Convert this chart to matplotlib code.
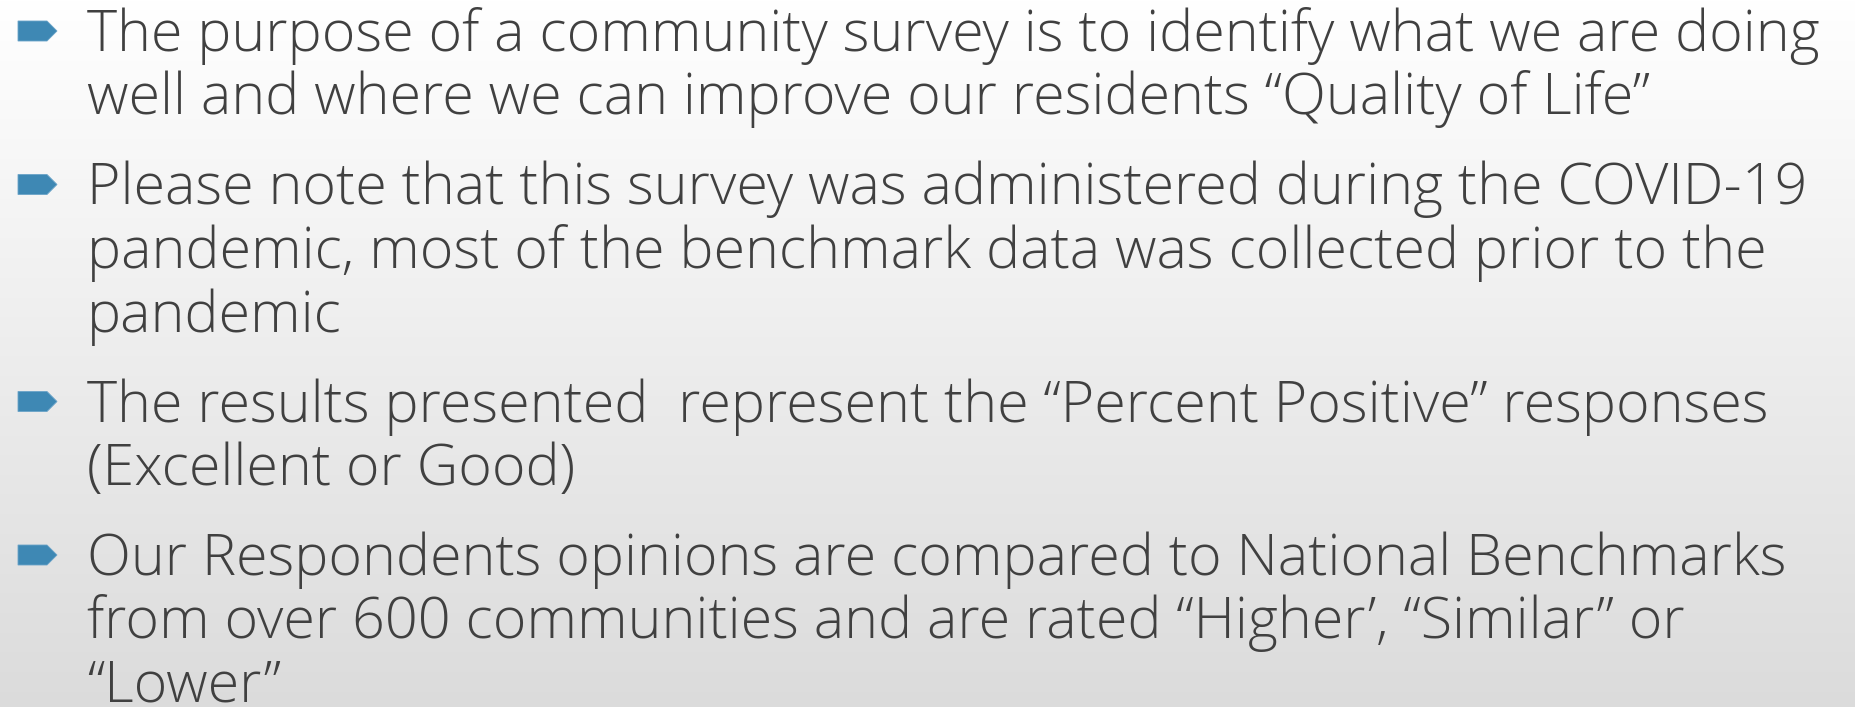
import numpy as np
import matplotlib
matplotlib.use("Agg")
import matplotlib.pyplot as plt
from matplotlib.patches import Polygon

# slide text, one list of wrapped lines per bullet
para1 = ["The purpose of a community survey is to identify what we are doing",
         "well and where we can improve our residents \u201cQuality of Life\u201d"]
para2 = ["Please note that this survey was administered during the COVID-19",
         "pandemic, most of the benchmark data was collected prior to the",
         "pandemic"]
para3 = ["The results presented  represent the \u201cPercent Positive\u201d responses",
         "(Excellent or Good)"]
para4 = ["Our Respondents opinions are compared to National Benchmarks",
         "from over 600 communities and are rated \u201cHigher\u2019, \u201cSimilar\u201d or",
         "\u201cLower\u201d"]
paragraphs = [para1, para2, para3, para4]

W, H = 1855, 707
fig = plt.figure(figsize=(W / 100, H / 100), dpi=100)
ax = fig.add_axes([0, 0, 1, 1])
ax.set_xlim(0, W)
ax.set_ylim(H, 0)
ax.axis("off")

# white to light grey vertical gradient
grad = np.linspace(1.0, 0.86, 256).reshape(-1, 1)
ax.imshow(np.dstack([grad, grad, grad]), extent=[0, W, H, 0], aspect="auto", zorder=0)

text_x = 87
y = 51
line_step = 63.5
para_step = 90
for p in paragraphs:
    # arrow-shaped bullet
    cy = y - 20
    pts = [(18, cy - 10), (47, cy - 10), (57, cy), (47, cy + 10), (18, cy + 10)]
    ax.add_patch(Polygon(pts, closed=True, facecolor="#3E88B4", edgecolor="#6AA3C8",
                         lw=0.6, zorder=2))
    for i, line in enumerate(p):
        ax.text(text_x, y, line, fontsize=41.3, family="Open Sans", fontweight="light",
                color="#404040", va="baseline", ha="left", zorder=3)
        if i < len(p) - 1:
            y += line_step
    y += para_step

fig.savefig("out.png", dpi=100)
